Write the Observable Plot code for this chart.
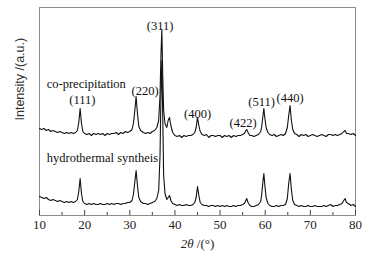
<!DOCTYPE html>
<html>
<head>
<meta charset="utf-8">
<script src="https://cdn.jsdelivr.net/npm/d3@7"></script>
<script src="https://cdn.jsdelivr.net/npm/@observablehq/plot@0.6"></script>
<style>
  html, body { margin: 0; padding: 0; background: #fff; }
</style>
</head>
<body>
<div id="chart"></div>
<script>
// 2θ positions (degrees)
const twoTheta = [
  10,10.5,11,11.5,12,12.5,13,13.5,14,14.5,
  15,15.5,16,16.5,17,17.5,18,18.4,18.7,19.0,
  19.3,19.6,20,20.5,21,21.5,22,22.5,23,23.5,
  24,24.5,25,25.5,26,26.5,27,27.5,28,28.5,
  29,29.5,30,30.5,30.8,31.1,31.4,31.7,32.0,32.4,
  33,33.5,34,34.5,35,35.5,36,36.4,36.7,36.9,
  37.1,37.3,37.5,37.8,38.2,38.5,38.8,39.1,39.5,40,
  40.5,41,41.5,42,42.5,43,43.5,44,44.4,44.7,
  45.0,45.3,45.6,46,46.5,47,47.5,48,48.5,49,
  49.5,50,50.5,51,51.5,52,52.5,53,53.5,54,
  54.5,55,55.4,55.7,55.9,56.2,56.6,57,57.5,58,
  58.5,59,59.2,59.5,59.7,59.9,60.2,60.6,61,61.5,
  62,62.5,63,63.5,64,64.5,64.9,65.2,65.5,65.8,
  66.1,66.5,67,67.5,68,68.5,69,69.5,70,70.5,
  71,71.5,72,72.5,73,73.5,74,74.5,75,75.5,
  76,76.5,77,77.4,77.7,78.0,78.4,79,79.5,80
];
// co-precipitation intensity (a.u., offset trace)
const coPrecipitation = [
  87,86,87,85,86,84,85,84,83,84,
  83,82,83,82,83,82,83,85,93,107,
  92,84,82,81,82,80,82,81,82,81,
  82,80,82,81,82,82,83,81,83,82,
  84,83,84,86,92,104,119,102,89,85,
  83,82,83,82,84,85,88,95,120,160,
  186,140,105,92,88,95,98,90,83,80,
  79,80,78,80,79,80,80,81,83,88,
  98,90,84,81,80,81,78,80,80,79,
  80,80,78,80,79,80,78,80,79,80,
  80,81,82,85,86,83,80,80,79,80,
  81,84,88,100,107,98,88,83,81,80,
  81,79,80,81,80,82,88,100,110,95,
  86,82,81,79,81,80,81,79,80,81,
  80,79,80,81,80,79,81,81,80,81,
  80,81,82,84,85,82,82,81,82,80
];
// hydrothermal synthesis intensity (a.u.)
const hydrothermal = [
  19,18,17,18,16,15,16,15,14,15,
  14,13,14,13,14,13,14,16,24,37,
  22,14,12,11,12,11,12,11,11,12,
  11,11,12,11,12,11,12,12,11,12,
  12,13,13,15,21,33,45,30,18,14,
  12,12,11,12,13,14,17,25,60,120,
  155,100,40,22,16,18,20,15,12,11,
  10,11,10,10,11,10,10,11,13,18,
  29,20,13,11,10,10,9,10,10,9,
  10,9,10,9,10,9,9,10,9,10,
  10,11,12,15,17,13,10,9,9,10,
  11,14,20,34,42,31,18,12,10,9,
  9,10,9,10,10,11,17,32,42,26,
  15,11,10,9,10,9,9,10,9,9,
  10,9,9,9,10,9,10,11,9,10,
  10,11,12,15,17,13,12,10,11,9
];

const seriesNames = ["co-precipitation", "hydrothermal syntheis"];
const seriesLabelX = [11.6, 11.6];
const seriesLabelY = [132, 58];

const peakLabels = ["(111)", "(220)", "(311)", "(400)", "(422)", "(511)", "(440)"];
const peakLabelX = [19.5, 33.4, 36.7, 45.0, 55.1, 59.2, 65.5];
const peakLabelY = [115.5, 125, 190, 102, 93, 114, 118];

const xTicks = [10, 20, 30, 40, 50, 60, 70, 80];
const xMinorTicks = [15, 25, 35, 45, 55, 65, 75];
const xLabel = "2θ /(°)";
const yLabel = "Intensity /(a.u.)";

const rowsTop = twoTheta.map((t, i) => ({t, v: coPrecipitation[i]}));
const rowsBottom = twoTheta.map((t, i) => ({t, v: hydrothermal[i]}));
const peaks = peakLabels.map((s, i) => ({s, x: peakLabelX[i], y: peakLabelY[i]}));
const names = seriesNames.map((s, i) => ({s, x: seriesLabelX[i], y: seriesLabelY[i]}));

const serif = "'Liberation Serif', 'Times New Roman', serif";

const chart = Plot.plot({
  width: 383,
  height: 260,
  marginLeft: 39,
  marginRight: 28,
  marginTop: 7,
  marginBottom: 45,
  style: {fontFamily: serif, fontSize: "12px", background: "#fff", color: "#000"},
  x: {domain: [10, 80], axis: null},
  y: {domain: [0, 208], axis: null},
  marks: [
    Plot.frame({stroke: "#8c8c8c", strokeWidth: 1}),
    Plot.axisX(xTicks, {anchor: "bottom", tickSize: -5, text: null, stroke: "#444"}),
    Plot.axisX(xMinorTicks, {anchor: "bottom", tickSize: -3, text: null, stroke: "#444"}),
    Plot.axisX(xTicks, {anchor: "bottom", tickSize: 0, tickPadding: 4, fontSize: 13, fontFamily: serif, fill: "#222", label: null}),
    Plot.line(rowsTop, {x: "t", y: "v", stroke: "#111", strokeWidth: 1.1}),
    Plot.line(rowsBottom, {x: "t", y: "v", stroke: "#111", strokeWidth: 1.1}),
    Plot.text(peaks, {x: "x", y: "y", text: "s", fontSize: 12.5, fontFamily: serif, fill: "#111"}),
    Plot.text(names, {x: "x", y: "y", text: "s", textAnchor: "start", fontSize: 12.5, fontFamily: serif, fill: "#111"}),
    Plot.text([xLabel], {frameAnchor: "bottom", dy: 32, text: d => d, fontSize: 13, fontFamily: serif, fill: "#222"}),
    Plot.text([yLabel], {frameAnchor: "left", rotate: -90, dx: -20, dy: 9, text: d => d, fontSize: 12.5, fontFamily: "'Liberation Sans', Arial, sans-serif", fill: "#333"})
  ]
});

// italicize "2θ" in the x-axis title
d3.select(chart).selectAll("text").filter(function () { return this.textContent === xLabel; }).each(function () {
  const t = d3.select(this);
  t.text(null);
  t.append("tspan").attr("font-style", "italic").text("2θ");
  t.append("tspan").text(" /(°)");
});

document.getElementById("chart").appendChild(chart);
</script>
</body>
</html>
